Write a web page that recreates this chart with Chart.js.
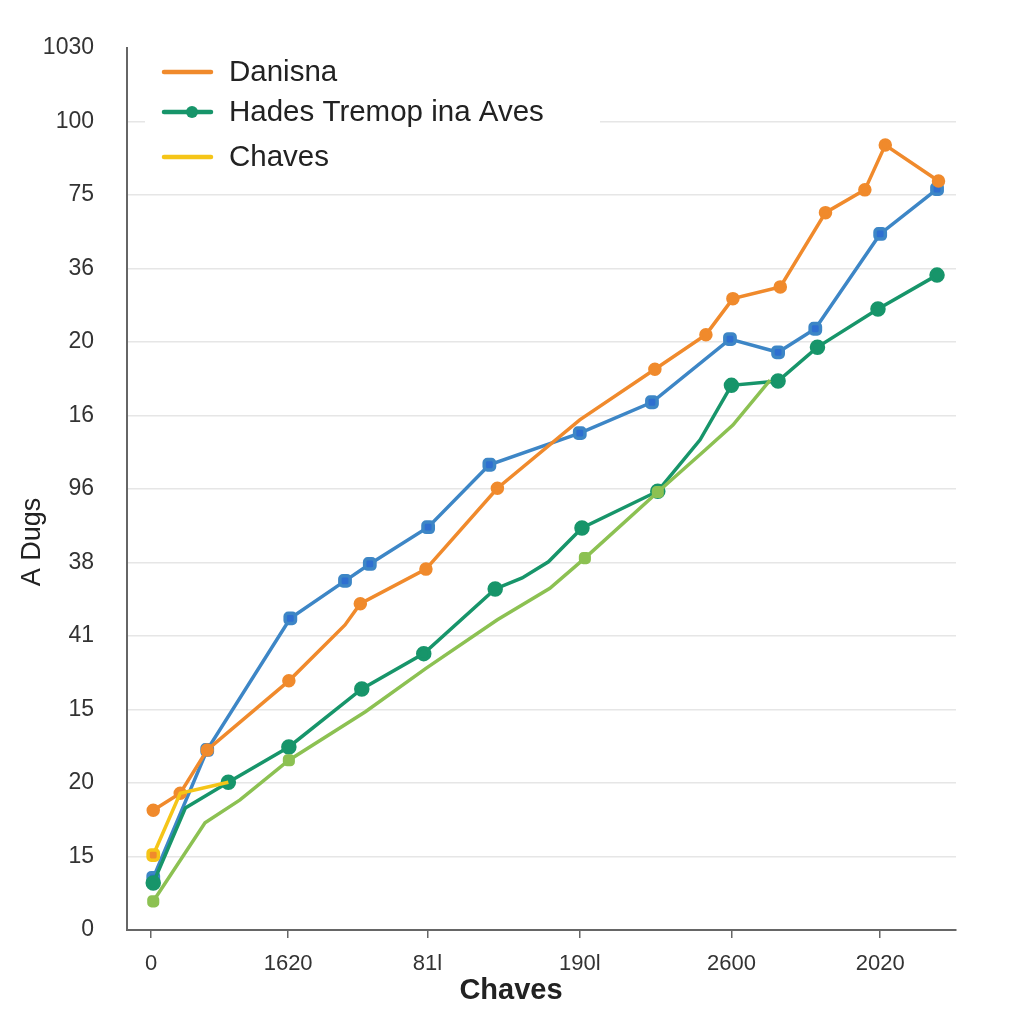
<!DOCTYPE html>
<html>
<head>
<meta charset="utf-8">
<script src="https://cdn.jsdelivr.net/npm/chart.js@4"></script>
<style>
  body { margin: 0; background: #fff; }
  canvas { display: block; }
</style>
</head>
<body>
<canvas id="grafico" width="1024" height="1024"></canvas>
<script>
// ==================== DADOS ====================

const yTickLabels = ['0', '15', '20', '15', '41', '38', '96', '16', '20', '36', '75', '100', '1030'];
const xTickPos = [0, 18.8, 37.9, 58.8, 79.6, 100];
const xTickLabels = ['0', '1620', '81l', '190l', '2600', '2020'];

// Danisna (laranja)
const danisnaX = [0.3, 4.0, 7.7, 18.9, 26.6, 28.7, 37.7, 47.5, 58.8, 69.1, 76.1, 79.8, 86.3, 92.5, 97.9, 100.7, 108.0];
const danisnaY = [1.63, 1.86, 2.45, 3.39, 4.15, 4.44, 4.91, 6.01, 6.94, 7.63, 8.10, 8.59, 8.75, 9.76, 10.07, 10.68, 10.19];
const danisnaMarca = [1, 1, 1, 1, 0, 1, 1, 1, 0, 1, 1, 1, 1, 1, 1, 1, 1];

// Hades Tremop ina Aves (verde)
const hadesX = [0.3, 4.7, 10.6, 18.9, 28.9, 37.4, 47.2, 50.9, 54.5, 59.1, 69.5, 75.3, 79.6, 86.0, 91.4, 99.7, 107.8];
const hadesY = [0.64, 1.66, 2.01, 2.49, 3.28, 3.76, 4.64, 4.79, 5.01, 5.47, 5.97, 6.67, 7.41, 7.47, 7.93, 8.45, 8.91];
const hadesMarca = [1, 0, 1, 1, 1, 1, 1, 0, 0, 1, 1, 0, 1, 1, 1, 1, 1];

// Chaves (amarelo)
const chavesX = [0.3, 4.0, 10.6];
const chavesY = [1.02, 1.86, 2.01];

// serie azul (fora da legenda)
const azulX = [0.3, 7.7, 19.1, 26.6, 30.0, 38.0, 46.4, 58.8, 68.7, 79.4, 86.0, 91.1, 100.0, 107.8];
const azulY = [0.71, 2.45, 4.24, 4.75, 4.98, 5.48, 6.33, 6.76, 7.18, 8.04, 7.86, 8.18, 9.47, 10.08];

// serie verde clara (fora da legenda)
const claraX = [0.3, 7.4, 12.2, 18.9, 29.4, 37.7, 47.5, 54.7, 59.5, 69.5, 76.0, 79.8, 84.9];
const claraY = [0.39, 1.46, 1.77, 2.31, 2.97, 3.56, 4.22, 4.65, 5.06, 5.96, 6.53, 6.87, 7.48];
const claraMarca = [1, 0, 0, 1, 0, 0, 0, 0, 1, 1, 0, 0, 0];

const legendaItens = [
    { texto: 'Danisna', cor: '#f08a2c', ponto: false },
    { texto: 'Hades Tremop ina Aves', cor: '#17956a', ponto: true },
    { texto: 'Chaves', cor: '#f5c518', ponto: false }
];

// ==================== AUXILIARES ====================

function pontos(xs, ys) {
    return xs.map((x, i) => ({ x: x, y: ys[i] }));
}

function raios(marcas, r) {
    return marcas.map(m => m ? r : 0);
}

const FONTE = '"Liberation Sans", Arial, sans-serif';

// legenda e titulos desenhados a mao
const extras = {
    id: 'extras',
    afterDatasetsDraw(chart) {
        const ctx = chart.ctx;
        ctx.save();
        // caixa da legenda
        ctx.fillStyle = '#ffffff';
        ctx.fillRect(145, 52, 455, 128);
        ctx.font = '29.5px ' + FONTE;
        ctx.textBaseline = 'middle';
        const linhasY = [72, 112, 157];
        legendaItens.forEach((item, i) => {
            const y = linhasY[i];
            ctx.strokeStyle = item.cor;
            ctx.lineWidth = 4.5;
            ctx.lineCap = 'round';
            ctx.beginPath();
            ctx.moveTo(164, y);
            ctx.lineTo(211, y);
            ctx.stroke();
            if (item.ponto) {
                ctx.fillStyle = item.cor;
                ctx.beginPath();
                ctx.arc(192, y, 6, 0, Math.PI * 2);
                ctx.fill();
            }
            ctx.fillStyle = '#222';
            ctx.textAlign = 'left';
            ctx.fillText(item.texto, 229, y + 1);
        });
        // titulo eixo y
        ctx.fillStyle = '#222';
        ctx.font = '27px ' + FONTE;
        ctx.translate(33, 542);
        ctx.rotate(-Math.PI / 2);
        ctx.textAlign = 'center';
        ctx.fillText('A Dugs', 0, 0);
        ctx.restore();
        // titulo eixo x
        ctx.save();
        ctx.fillStyle = '#222';
        ctx.font = 'bold 29px ' + FONTE;
        ctx.textAlign = 'center';
        ctx.textBaseline = 'middle';
        ctx.fillText('Chaves', 511, 991);
        ctx.restore();
    }
};

// ==================== GRAFICO ====================

const linhaBase = {
    borderWidth: 3.5,
    tension: 0,
    fill: false,
    pointHoverRadius: 0
};

new Chart(document.getElementById('grafico'), {
    type: 'line',
    data: {
        datasets: [
            Object.assign({}, linhaBase, {
                label: 'verde clara',
                data: pontos(claraX, claraY),
                borderColor: '#8cc152',
                backgroundColor: '#8cc152',
                pointRadius: raios(claraMarca, 5),
                pointStyle: 'rectRounded'
            }),
            Object.assign({}, linhaBase, {
                label: 'Chaves',
                data: pontos(chavesX, chavesY),
                borderColor: '#f5c518',
                backgroundColor: ['#f08a2c', '#f5c518', '#f5c518'],
                pointRadius: [6, 0, 0],
                pointStyle: 'rectRounded'
            }),
            Object.assign({}, linhaBase, {
                label: 'Hades Tremop ina Aves',
                data: pontos(hadesX, hadesY),
                borderColor: '#17956a',
                backgroundColor: '#17956a',
                pointRadius: raios(hadesMarca, 6)
            }),
            Object.assign({}, linhaBase, {
                label: 'Danisna',
                data: pontos(danisnaX, danisnaY),
                borderColor: '#f08a2c',
                backgroundColor: '#f08a2c',
                pointRadius: raios(danisnaMarca, 5)
            }),
            Object.assign({}, linhaBase, {
                label: 'azul',
                data: pontos(azulX, azulY),
                borderColor: '#3d86c6',
                backgroundColor: '#2f6fd0',
                pointRadius: 6,
                pointStyle: 'rectRounded'
            })
        ]
    },
    options: {
        responsive: false,
        animation: false,
        layout: { padding: { top: 48, right: 68, left: 0, bottom: 0 } },
        plugins: {
            legend: { display: false },
            tooltip: { enabled: false }
        },
        scales: {
            x: {
                type: 'linear',
                min: -3.3,
                max: 110.4,
                afterBuildTicks(scale) {
                    scale.ticks = xTickPos.map(v => ({ value: v }));
                },
                afterFit(scale) { scale.height = 94; },
                ticks: {
                    autoSkip: false,
                    maxRotation: 0,
                    padding: 13,
                    color: '#333',
                    font: { size: 22, family: FONTE },
                    callback: (v, i) => xTickLabels[i]
                },
                grid: {
                    drawOnChartArea: false,
                    drawTicks: true,
                    tickLength: 8,
                    color: '#666',
                    lineWidth: 1.5
                },
                border: { display: true, color: '#666', width: 2 }
            },
            y: {
                type: 'linear',
                min: 0,
                max: 12,
                afterFit(scale) { scale.width = 127; },
                ticks: {
                    stepSize: 1,
                    padding: 33,
                    color: '#333',
                    font: { size: 23, family: FONTE },
                    callback: v => yTickLabels[v]
                },
                grid: {
                    drawTicks: false,
                    color: ctx => (ctx.tick.value === 0 || ctx.tick.value === 12) ? 'rgba(0,0,0,0)' : '#e6e6e6',
                    lineWidth: 1.5
                },
                border: { display: true, color: '#666', width: 2 }
            }
        }
    },
    plugins: [extras]
});
</script>
</body>
</html>
